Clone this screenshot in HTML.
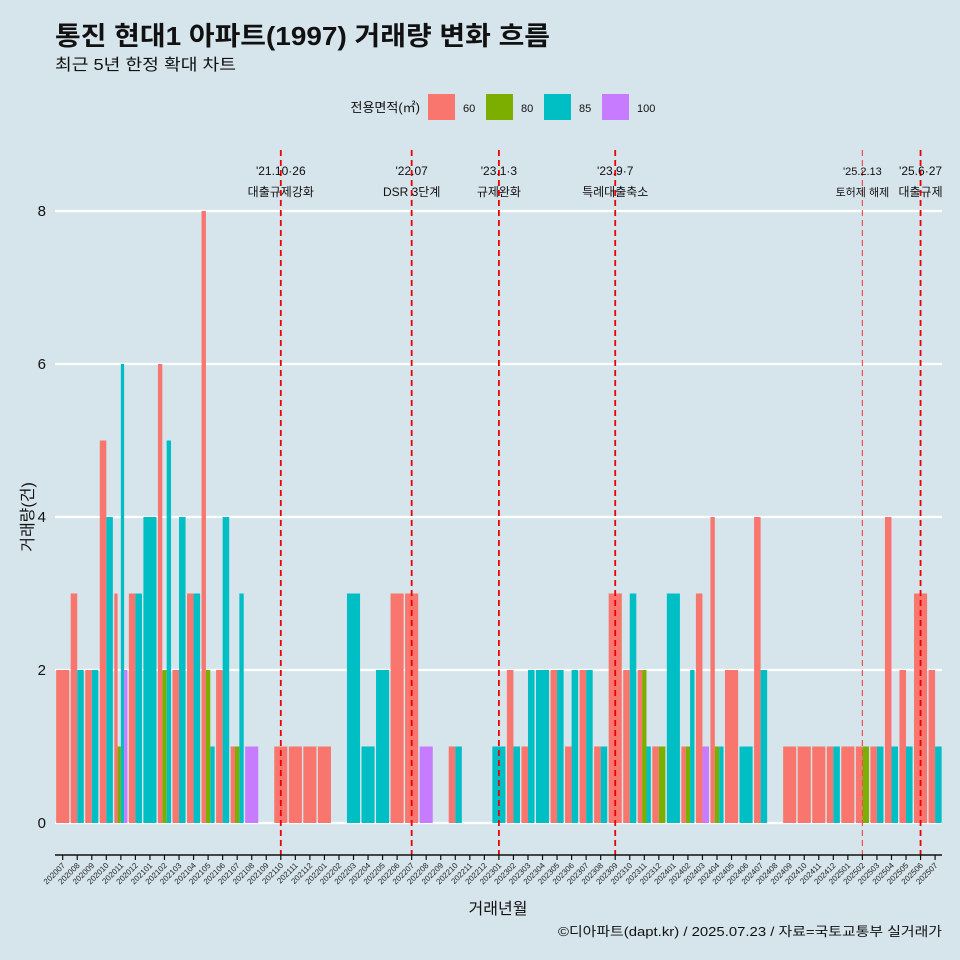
<!DOCTYPE html>
<html><head><meta charset="utf-8"><style>
body{margin:0;background:#d6e4eb}
svg{display:block;font-family:"Liberation Sans","Noto Sans CJK KR",sans-serif}
</style></head><body>
<svg id="c" width="960" height="960" viewBox="0 0 960 960">
<rect width="960" height="960" fill="#d6e4eb"/>
<text x="55" y="45" font-size="26" font-weight="bold" fill="#111" textLength="495" lengthAdjust="spacingAndGlyphs">통진 현대1 아파트(1997) 거래량 변화 흐름</text>
<text x="55" y="70" font-size="16" fill="#111" textLength="181" lengthAdjust="spacingAndGlyphs">최근 5년 한정 확대 차트</text>
<g>
<text x="420" y="112" font-size="13" text-anchor="end" fill="#111">전용면적(㎡)</text>
<rect x="428" y="94" width="27" height="26" fill="#f8766d"/>
<text x="463" y="112" font-size="11" fill="#111">60</text>
<rect x="486" y="94" width="27" height="26" fill="#7cae00"/>
<text x="521" y="112" font-size="11" fill="#111">80</text>
<rect x="544" y="94" width="27" height="26" fill="#00bfc4"/>
<text x="579" y="112" font-size="11" fill="#111">85</text>
<rect x="602" y="94" width="27" height="26" fill="#c77cff"/>
<text x="637" y="112" font-size="11" fill="#111">100</text>
</g>
<g id="grid"></g><g id="bars"></g><g id="ann"></g><g id="axes"></g>
<text x="498" y="914" font-size="16" text-anchor="middle" fill="#111">거래년월</text>
<text transform="translate(33,517) rotate(-90)" font-size="16" text-anchor="middle" fill="#111">거래량(건)</text>
<text x="942" y="936" font-size="13" text-anchor="end" fill="#111" textLength="384" lengthAdjust="spacingAndGlyphs">©디아파트(dapt.kr) / 2025.07.23 / 자료=국토교통부 실거래가</text>
</svg>
<script>
const months=["202007","202008","202009","202010","202011","202012","202101","202102","202103","202104","202105","202106","202107","202108","202109","202110","202111","202112","202201","202202","202203","202204","202205","202206","202207","202208","202209","202210","202211","202212","202301","202302","202303","202304","202305","202306","202307","202308","202309","202310","202311","202312","202401","202402","202403","202404","202405","202406","202407","202408","202409","202410","202411","202412","202501","202502","202503","202504","202505","202506","202507"];
const sizes=["60","80","85","100"];
const colors=["#f8766d","#7cae00","#00bfc4","#c77cff"];
const v60=[2,3,2,5,3,3,0,6,2,3,8,2,1,0,0,1,1,1,1,0,0,0,0,3,3,0,0,1,0,0,0,2,1,0,2,1,2,1,3,2,2,1,0,1,3,4,2,0,4,0,1,1,1,1,1,1,1,4,2,3,2];
const v80=[0,0,0,0,1,0,0,2,0,0,2,0,1,0,0,0,0,0,0,0,0,0,0,0,0,0,0,0,0,0,0,0,0,0,0,0,0,0,0,0,2,1,0,1,0,1,0,0,0,0,0,0,0,0,0,1,0,0,0,0,0];
const v85=[0,2,2,4,6,3,4,5,4,3,1,4,3,0,0,0,0,0,0,0,3,1,2,0,0,0,0,1,0,0,1,1,2,2,2,2,2,1,0,3,1,0,3,2,0,1,0,1,2,0,0,0,0,1,0,0,1,1,1,0,1];
const v100=[0,0,0,0,2,0,0,0,0,0,0,0,0,1,0,0,0,0,0,0,0,0,0,0,0,1,0,0,0,0,0,0,0,0,0,0,0,0,0,0,0,0,0,0,1,0,0,0,0,0,0,0,0,0,0,0,0,0,0,0,0];
const yTicks=[0,2,4,6,8];
const events=[["202110","'21.10·26","대출규제강화",false],["202207","'22.07","DSR 3단계",false],["202301","'23.1·3","규제완화",false],["202309","'23.9·7","특례대출축소",false],["202502","'25.2.13","토허제 해제",true],["202506","'25.6·27","대출규제",false]];
const NS="http://www.w3.org/2000/svg";
const X0=62.7,STEP=14.54,Y0=823,PPU=76.5;
const xc=i=>X0+STEP*i, y=v=>Y0-v*PPU;
function mk(tag,at,p){const e=document.createElementNS(NS,tag);for(const k in at)e.setAttribute(k,at[k]);p.appendChild(e);return e;}
const grid=document.getElementById('grid');
yTicks.forEach(t=>{
 const l=mk('line',{x1:55,x2:942,y1:y(t),y2:y(t),stroke:'#fff','stroke-width':2.2},grid);
 
 
 const tx=mk('text',{x:46,y:y(t)+5,'font-size':15,'text-anchor':'end',fill:'#111'},grid);
 tx.textContent=t;
 
 
});
const bars=document.getElementById('bars');
const series=[v60,v80,v85,v100];
months.forEach((m,i)=>{
 const present=[];series.forEach((s,k)=>{if(s[i]>0)present.push(k);});
 if(!present.length)return;
 const W=STEP*0.9,w=W/present.length,left=xc(i)-W/2;
 present.forEach((k,j)=>{
  const val=series[k][i];
  const r=mk('rect',{x:left+j*w,y:y(val),width:w,height:val*PPU,fill:colors[k]},bars);
  
  
 });
});
const ann=document.getElementById('ann');
events.forEach(ev=>{
 const i=months.indexOf(ev[0]),x=xc(i);
 const l=mk('line',{x1:x,x2:x,y1:150,y2:855,stroke:ev[3]?'#f05050':'#ee0000','stroke-width':ev[3]?1.2:1.8,'stroke-dasharray':'6,4'},ann);
 
 
 const fs=ev[3]?11:12;
 const t1=mk('text',{x:x,y:175,'font-size':fs,'text-anchor':'middle',fill:'#111'},ann);
 t1.textContent=ev[1];
 
 
 const t2=mk('text',{x:x,y:196,'font-size':fs,'text-anchor':'middle',fill:'#111'},ann);
 t2.textContent=ev[2];
 
 
});
const axes=document.getElementById('axes');
const ax=mk('line',{x1:55,x2:942,y1:855,y2:855,stroke:'#111','stroke-width':1.5},axes);


months.forEach((m,i)=>{
 const x=xc(i);
 const tk=mk('line',{x1:x,x2:x,y1:855,y2:860,stroke:'#111','stroke-width':1.2},axes);
 
 
 const t=mk('text',{x:x+3,y:866,'font-size':8,'text-anchor':'end',fill:'#222',transform:`rotate(-45 ${x+3} 866)`},axes);
 t.textContent=m;
 
 
});
</script>
</body></html>
